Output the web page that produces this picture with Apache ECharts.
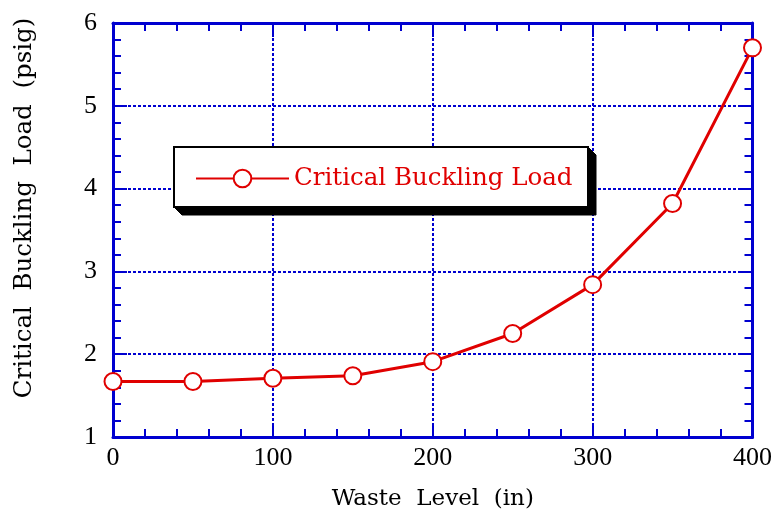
<!DOCTYPE html>
<html>
<head>
<meta charset="utf-8">
<script src="https://cdn.jsdelivr.net/npm/echarts@6/dist/echarts.min.js"></script>
<style>
  html, body { margin: 0; padding: 0; background: #fff; }
  #chart { width: 775px; height: 516px; }
</style>
</head>
<body>
<div id="chart"></div>
<script>
// Waste level (in) and the critical buckling load (psig) at each level
const wasteLevel = [0, 50, 100, 150, 200, 250, 300, 350, 400];
const bucklingLoad = [1.67, 1.67, 1.71, 1.74, 1.91, 2.25, 2.84, 3.82, 5.70];
const seriesName = 'Critical Buckling Load';

const axisBlue = '#0000d0';
const lineRed = '#e00000';
const serif = 'DejaVu Serif';
const tickFont = 'Liberation Serif';

// Shared look of the four frame axes: thick blue line, inward major and minor ticks
function frameAxis() {
  return {
    axisLine: { show: true, onZero: false, lineStyle: { color: axisBlue, width: 3 } },
    axisTick: { show: true, inside: true, length: 14, lineStyle: { color: axisBlue, width: 2 } },
    minorTick: { show: true, splitNumber: 5, length: 8, lineStyle: { color: axisBlue, width: 2 } }
  };
}

// Legend frame with a solid extruded shadow on its right and bottom edges
const box = { x: 174, y: 147, w: 414, h: 60, d: 8 };

const chart = echarts.init(document.getElementById('chart'), null, { renderer: 'canvas' });
chart.setOption({
  backgroundColor: '#fff',
  animation: false,
  grid: { left: 113, right: 22, top: 23, bottom: 77, containLabel: false },
  xAxis: [
    Object.assign({
      type: 'value', min: 0, max: 400, interval: 100, position: 'bottom',
      name: 'Waste  Level  (in)', nameLocation: 'middle', nameGap: 51,
      nameTextStyle: { fontFamily: serif, fontSize: 23, color: '#000' },
      axisLabel: { fontFamily: tickFont, fontSize: 26, color: '#000', margin: 8 },
      splitLine: { show: true, lineStyle: { color: axisBlue, width: 2, type: [3, 2] } }
    }, frameAxis()),
    Object.assign({
      type: 'value', min: 0, max: 400, interval: 100, position: 'top',
      axisLabel: { show: false }, splitLine: { show: false }
    }, frameAxis())
  ],
  yAxis: [
    Object.assign({
      type: 'value', min: 1, max: 6, interval: 1, position: 'left',
      name: 'Critical  Buckling  Load  (psig)', nameLocation: 'middle', nameGap: 76,
      nameRotate: 90,
      nameTextStyle: { fontFamily: serif, fontSize: 24.5, color: '#000', padding: [0, 0, 0, 44] },
      axisLabel: { fontFamily: tickFont, fontSize: 26, color: '#000', margin: 16 },
      splitLine: { show: true, lineStyle: { color: axisBlue, width: 2, type: [3, 2] } }
    }, frameAxis()),
    Object.assign({
      type: 'value', min: 1, max: 6, interval: 1, position: 'right',
      axisLabel: { show: false }, splitLine: { show: false }
    }, frameAxis())
  ],
  graphic: [
    {
      type: 'polygon', z: 10, silent: true,
      shape: { points: [
        [box.x + box.w, box.y], [box.x + box.w + box.d, box.y + box.d],
        [box.x + box.w + box.d, box.y + box.h + box.d], [box.x + box.d, box.y + box.h + box.d],
        [box.x, box.y + box.h], [box.x + box.w, box.y + box.h]
      ] },
      style: { fill: '#000', stroke: '#000', lineWidth: 1 }
    },
    {
      type: 'rect', z: 11, silent: true,
      shape: { x: box.x, y: box.y, width: box.w, height: box.h },
      style: { fill: '#fff', stroke: '#000', lineWidth: 2 }
    }
  ],
  legend: {
    left: 195, top: 166, z: 20,
    data: [seriesName],
    orient: 'horizontal',
    padding: 0,
    itemWidth: 93, itemHeight: 22,
    textStyle: { fontFamily: serif, fontSize: 24.5, color: lineRed }
  },
  series: [{
    name: seriesName,
    type: 'line',
    data: wasteLevel.map((x, i) => [x, bucklingLoad[i]]),
    symbol: 'emptyCircle',
    symbolSize: 17,
    lineStyle: { color: lineRed, width: 3 },
    itemStyle: { color: lineRed, borderColor: lineRed, borderWidth: 2.5 },
    z: 5
  }]
});
</script>
</body>
</html>
